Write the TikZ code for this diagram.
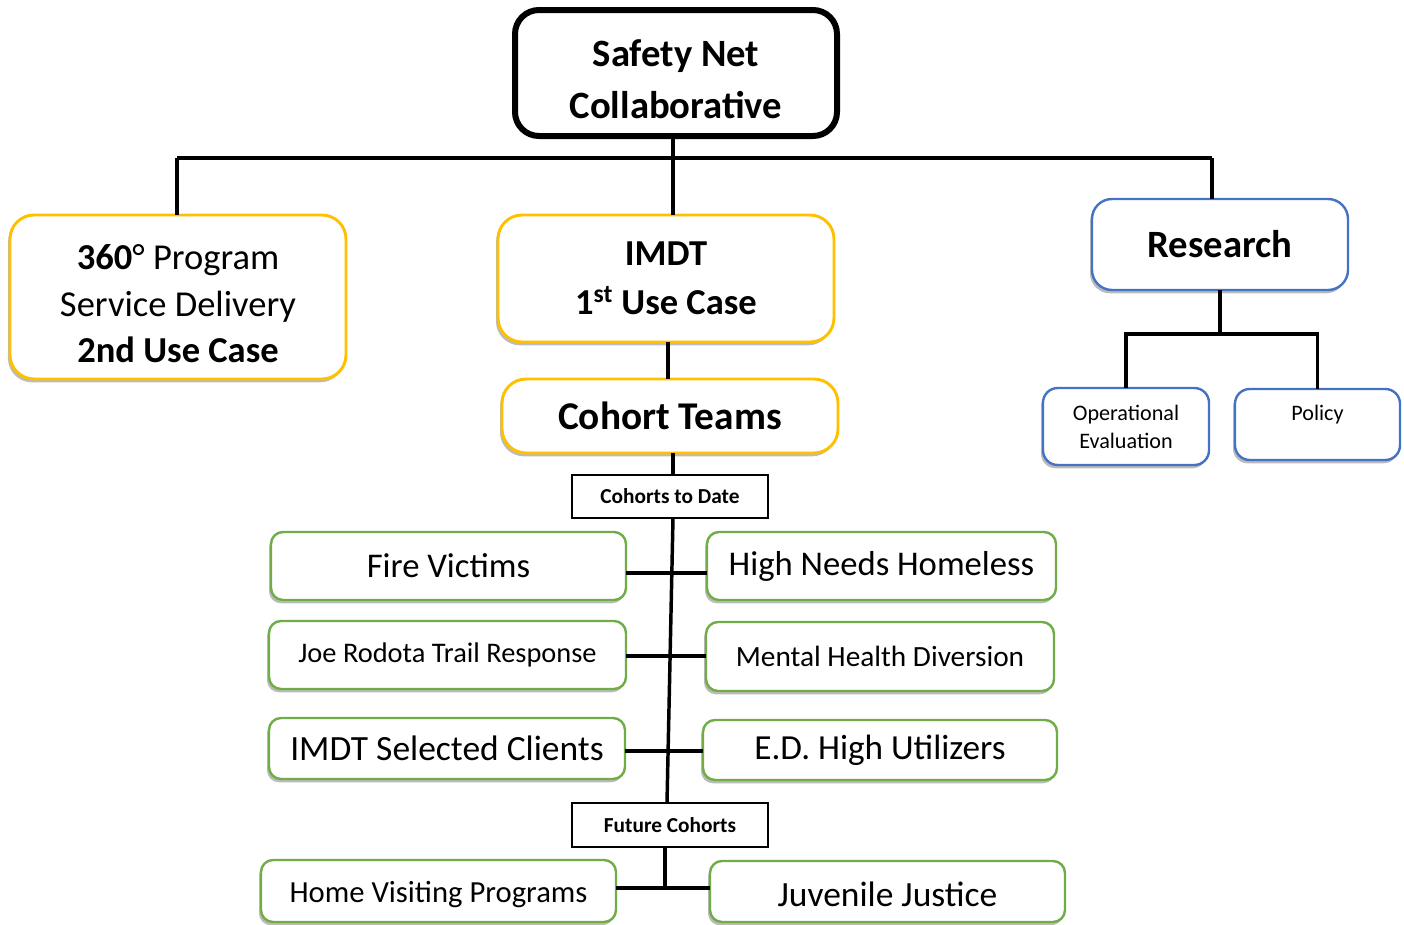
\documentclass[tikz,border=0pt]{standalone}
\usepackage{fontspec}
\setmainfont{Carlito}
\usetikzlibrary{shadows}
\definecolor{yel}{HTML}{FFC000}
\definecolor{grn}{HTML}{70AD47}
\definecolor{blu}{HTML}{4472C4}
\newcommand\toppad[2]{\rule{0pt}{#1}\smash{#2}}
\tikzset{
  base/.style={fill=white, inner sep=0pt, outer sep=0pt, align=center, text=black},
  shad/.style={drop shadow={shadow xshift=-1.5pt, shadow yshift=-2.5pt, opacity=0.38, fill=black!70}},
  topbox/.style={base, draw=black, line width=4.5pt, rounded corners=18pt},
  ybox/.style={base, shad, draw=yel, line width=2.2pt, rounded corners=18pt},
  gbox/.style={base, shad, draw=grn, line width=1.8pt, rounded corners=9pt},
  bbox/.style={base, shad, draw=blu, line width=1.8pt, rounded corners=15pt},
  sbbox/.style={base, shad, draw=blu, line width=1.8pt, rounded corners=11pt},
  lbox/.style={base, draw=black, line width=0.8pt},
  conn/.style={draw=black, line width=2.6pt},
}
\begin{document}
\begin{tikzpicture}[x=0.75pt, y=-0.75pt]
\useasboundingbox (0,0) rectangle (1404,925);
% top
\node[topbox, minimum width=241.5pt, minimum height=94.5pt,
  font=\fontsize{29}{39}\selectfont\bfseries] (top) at (676,73)
  {\toppad{30pt}{Safety Net}\\Collaborative};
% level 1
\node[ybox, minimum width=252pt, minimum height=123pt,
  font=\fontsize{27.4}{35}\selectfont] (left) at (178,297)
  {\toppad{29pt}{\textbf{360}° Program}\\Service Delivery\\\textbf{2nd Use Case}};
\node[ybox, minimum width=252pt, minimum height=95.25pt,
  font=\fontsize{27.4}{37}\selectfont\bfseries] (imdt) at (666,278.5)
  {IMDT\\1\textsuperscript{st} Use Case};
\node[bbox, minimum width=192pt, minimum height=68.25pt,
  font=\fontsize{29}{35}\selectfont\bfseries] (research) at (1220,244.5)
  {Research};
% research children
\node[sbbox, minimum width=124.5pt, minimum height=57.75pt,
  font=\fontsize{16.6}{21}\selectfont] (opeval) at (1126,426.5)
  {Operational\\Evaluation};
\node[sbbox, minimum width=123.75pt, minimum height=53.25pt,
  font=\fontsize{16.6}{21}\selectfont] (policy) at (1317.5,424.5)
  {\toppad{21pt}{Policy}\\\strut};
% cohort teams
\node[ybox, minimum width=252pt, minimum height=55.5pt,
  font=\fontsize{29.5}{35}\selectfont\bfseries] (cohort) at (670,416)
  {Cohort Teams};
\node[lbox, minimum width=147pt, minimum height=32.25pt,
  font=\fontsize{16}{20}\selectfont\bfseries] (ctd) at (670,496.5)
  {Cohorts to Date};
\node[lbox, minimum width=147pt, minimum height=33pt,
  font=\fontsize{16}{20}\selectfont\bfseries] (fut) at (670,825)
  {Future Cohorts};
% green boxes
\node[gbox, minimum width=266.25pt, minimum height=51pt,
  font=\fontsize{26}{30}\selectfont] (fire) at (448.5,566)
  {Fire Victims};
\node[gbox, minimum width=261.75pt, minimum height=51pt,
  font=\fontsize{26}{30}\selectfont] (high) at (881.5,566)
  {High Needs Homeless};
\node[gbox, minimum width=267.75pt, minimum height=51pt,
  font=\fontsize{21.3}{26}\selectfont] (joe) at (447.5,655)
  {Joe Rodota Trail Response};
\node[gbox, minimum width=261pt, minimum height=51.75pt,
  font=\fontsize{22}{26}\selectfont] (mental) at (880,656.5)
  {Mental Health Diversion};
\node[gbox, minimum width=267pt, minimum height=45.75pt,
  font=\fontsize{26.6}{30}\selectfont] (isel) at (447,748.5)
  {IMDT Selected Clients};
\node[gbox, minimum width=265.5pt, minimum height=45pt,
  font=\fontsize{26.4}{30}\selectfont] (ed) at (880,750)
  {E.D. High Utilizers};
\node[gbox, minimum width=266.25pt, minimum height=46.5pt,
  font=\fontsize{23}{28}\selectfont] (home) at (438.5,891)
  {\toppad{16.6pt}{Home Visiting Programs}};
\node[gbox, minimum width=266.25pt, minimum height=45.75pt,
  font=\fontsize{26.6}{30}\selectfont] (juv) at (887.5,891.5)
  {\toppad{22.2pt}{Juvenile Justice}};
% coordinates for connectors
\coordinate (busL) at (177,158);
\coordinate (busM) at (673,158);
\coordinate (busR) at (1212,158);
\coordinate (c1) at (668,360);
\coordinate (c2) at (673,465);
\coordinate (s1) at (673,518);
\coordinate (s2) at (667,803);
\coordinate (s3) at (665,888);
\coordinate (h1) at (672,573);
\coordinate (h2) at (670,656);
\coordinate (h3) at (668,751);
\coordinate (rb) at (1220,334);
% connectors
\draw[conn] (busL) -- (busR);
\draw[conn] (top.south -| busM) -- (busM) -- (imdt.north -| busM);
\draw[conn] (busL) -- (left.north -| busL);
\draw[conn] (busR) -- (research.north -| busR);
\draw[conn] (imdt.south -| c1) -- (cohort.north -| c1);
\draw[conn] (cohort.south -| c2) -- (ctd.north -| c2);
\draw[conn] (ctd.south -| s1) -- (fut.north -| s2);
\draw[conn] (fut.south -| s3) -- (s3);
\draw[conn] (fire.east |- h1) -- (high.west |- h1);
\draw[conn] (joe.east |- h2) -- (mental.west |- h2);
\draw[conn] (isel.east |- h3) -- (ed.west |- h3);
\draw[conn] (home.east |- s3) -- (juv.west |- s3);
\draw[conn] (research.south) -- (rb);
\draw[conn] (opeval.north) |- (rb) -| (policy.north);
\end{tikzpicture}
\end{document}
